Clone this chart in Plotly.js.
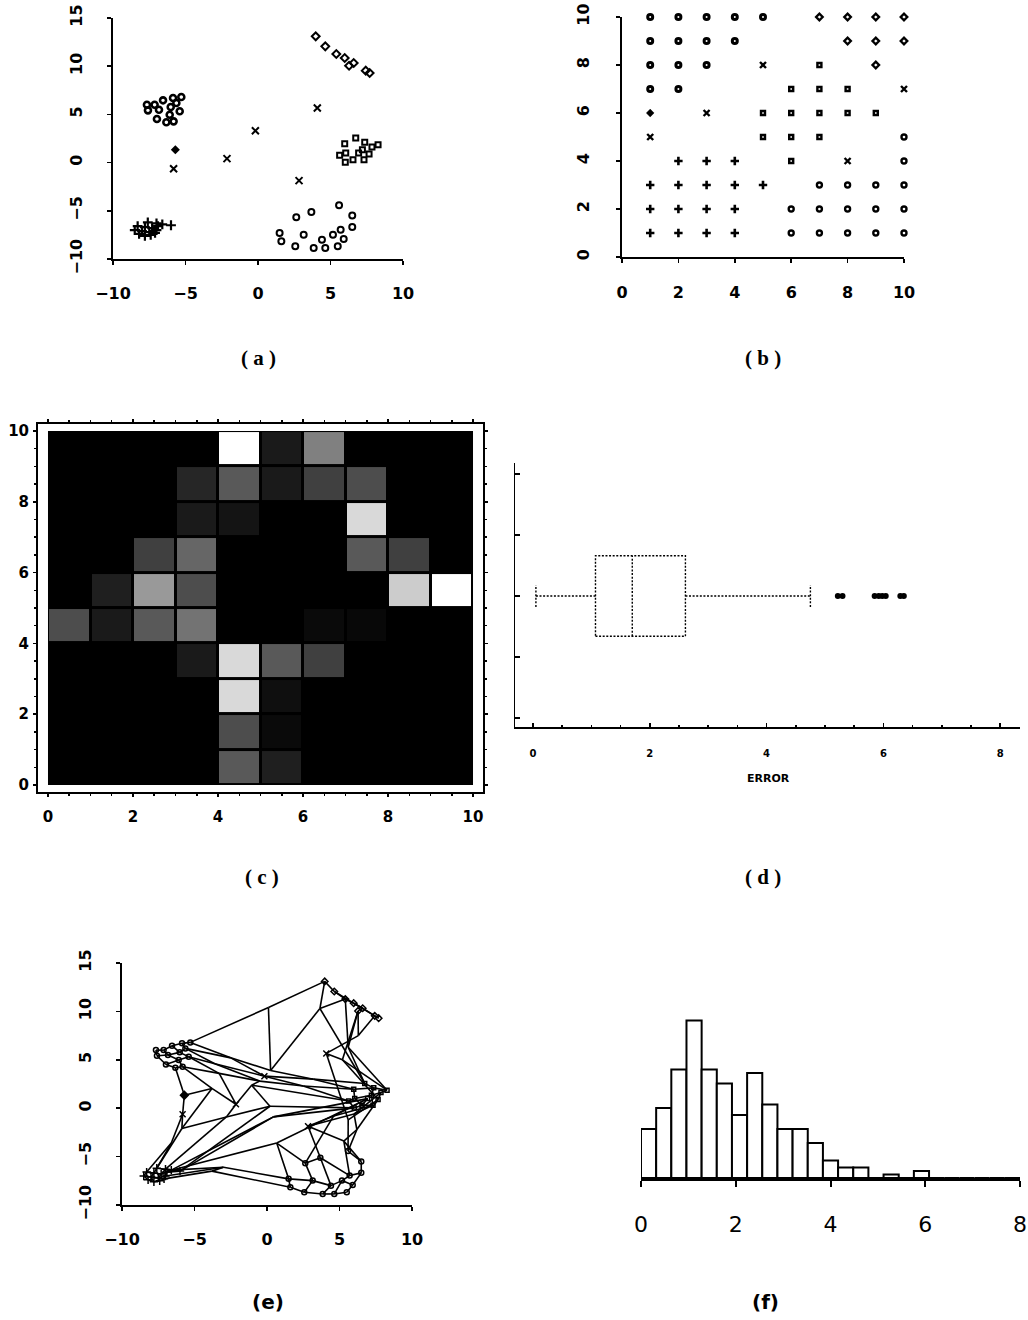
<!DOCTYPE html>
<html>
<head>
<meta charset="utf-8">
<script src="https://cdn.plot.ly/plotly-3.0.1.min.js"></script>
<style>
  html, body { margin: 0; padding: 0; background: #fff; }
  #chart { width: 1028px; height: 1320px; }
</style>
</head>
<body>
<div id="chart"></div>
<script>
// ---- Self-organising map, 10 x 10 units (first row = grid row 10, last row = grid row 1) ----
// Class of each unit: C/O circles, D diamonds, S squares, P plus, X crosses, F filled diamond, '.' no class
const unitLabels = [
  "CCCCC.DDDD",
  "CCCC...DDD",
  "CCC.X.S.D.",
  "CC...SSS.X",
  "F.X.SSSSS.",
  "X...SSS..O",
  ".PPP.S.X.O",
  "PPPPP.OOOO",
  "PPPP.OOOOO",
  "PPPP.OOOOO"
];

// Unit weight vectors in the input plane (x component)
const unitX = [
  [-7.66, -7.13, -6.55, -5.86, -5.29,  0.10,  3.98,  4.64,  5.98,  7.70],
  [-7.59, -6.83, -6.02, -5.63, -2.50,  0.25,  3.65,  5.40,  6.60,  7.43],
  [-6.97, -6.09, -5.40, -3.60, -0.18,  3.20,  6.74,  5.60,  6.28,  6.30],
  [-6.32, -5.82, -3.30, -0.50,  2.50,  5.98,  7.36,  8.28,  5.20,  4.09],
  [-5.70, -3.80, -2.14, -1.06,  5.63,  6.05,  7.20,  7.86,  7.66,  5.60],
  [-5.82, -5.87, -2.80,  0.20,  6.02,  6.55,  7.31,  6.00,  6.20,  5.59],
  [-6.60, -7.60, -7.00, -6.00,  0.44,  6.94,  4.60,  2.83,  5.30,  6.50],
  [-8.30, -7.80, -7.30, -6.90, -6.60,  0.67,  2.64,  3.68,  5.70,  6.50],
  [-8.50, -8.00, -7.50, -7.00, -3.00,  1.49,  3.15,  4.41,  5.17,  5.91],
  [-8.20, -7.80, -7.40, -7.10, -3.80,  1.61,  2.57,  3.84,  4.64,  5.50]
];

// Unit weight vectors in the input plane (y component)
const unitY = [
  [ 6.00,  6.00,  6.46,  6.70,  6.80, 10.40, 13.10, 12.06, 10.85,  9.30],
  [ 5.42,  5.49,  5.77,  6.18,  5.20,  3.90, 10.30, 11.27, 10.33,  9.54],
  [ 4.52,  4.97,  5.32,  4.60,  3.31,  3.00,  2.55,  6.30, 10.05,  7.50],
  [ 4.18,  4.28,  3.60,  2.80,  2.30,  1.96,  2.10,  1.86,  5.00,  5.66],
  [ 1.34,  2.04,  0.41,  2.38,  0.75,  1.00,  1.34,  1.62,  0.89, -1.20],
  [-0.63, -2.10, -0.90,  0.20,  0.03,  0.30,  0.30, -0.60, -2.20, -4.43],
  [-3.60, -6.20, -6.30, -6.50, -0.90,  0.99, -0.80, -1.87, -3.40, -5.50],
  [-6.60, -6.70, -6.80, -6.60, -6.40, -3.60, -5.68, -5.12, -6.96, -6.68],
  [-7.00, -7.10, -7.20, -7.00, -6.10, -7.30, -7.48, -8.00, -7.48, -7.93],
  [-7.40, -7.60, -7.50, -7.30, -6.50, -8.17, -8.69, -8.86, -8.86, -8.69]
];

// Unit distance map, rows from grid row 0 (bottom) to row 9 (top), 0 = black, 1 = white
const distanceMap = [
  [0, 0, 0, 0, 0.35, 0.12, 0, 0, 0, 0],
  [0, 0, 0, 0, 0.30, 0.04, 0, 0, 0, 0],
  [0, 0, 0, 0, 0.85, 0.06, 0, 0, 0, 0],
  [0, 0, 0, 0.10, 0.85, 0.35, 0.25, 0, 0, 0],
  [0.30, 0.10, 0.35, 0.45, 0, 0, 0.04, 0.03, 0, 0],
  [0, 0.12, 0.60, 0.30, 0, 0, 0, 0, 0.80, 1.00],
  [0, 0, 0.25, 0.40, 0, 0, 0, 0.35, 0.25, 0],
  [0, 0, 0, 0.10, 0.08, 0, 0, 0.85, 0, 0],
  [0, 0, 0, 0.15, 0.35, 0.10, 0.25, 0.30, 0, 0],
  [0, 0, 0, 0, 1.00, 0.10, 0.50, 0, 0, 0]
];

// Quantisation error summary
const errorLowWhisker = 0.05;
const errorQ1 = 1.07;
const errorMedian = 1.70;
const errorQ3 = 2.61;
const errorHighWhisker = 4.75;
const errorOutliers = [5.22, 5.30, 5.85, 5.92, 5.98, 6.04, 6.29, 6.35];

// Quantisation error histogram
const histBinStart = 0;
const histBinWidth = 0.32;
const histCounts = [14, 20, 31, 45, 31, 27, 18, 30, 21, 14, 14, 10, 5, 3, 3, 0, 1, 0, 2, 0, 0, 0, 0, 0, 0];

// Tick labels
const scatterTicks = [-10, -5, 0, 5, 10];
const scatterYTicks = [-10, -5, 0, 5, 10, 15];
const gridTicks = [0, 2, 4, 6, 8, 10];
const errorTicks = [0, 2, 4, 6, 8];
const panelNames = ["a", "b", "c", "d", "e", "f"];

// ---- layout helpers (pixel positions on the 1028 x 1320 page) ----
const W = 1028, H = 1320;
const xd = (l, r) => [l / W, r / W];
const yd = (t, b) => [1 - b / H, 1 - t / H];

const markerStyle = {
  C: { symbol: 'circle-open', size: 6, line: { width: 2.6, color: '#000' } },
  O: { symbol: 'circle-open', size: 6, line: { width: 2, color: '#000' } },
  D: { symbol: 'diamond-open', size: 6, line: { width: 2, color: '#000' } },
  S: { symbol: 'square-open', size: 5, line: { width: 2, color: '#000' } },
  P: { symbol: 'cross-thin', size: 7, line: { width: 2.2, color: '#000' } },
  X: { symbol: 'x-thin', size: 7, line: { width: 2, color: '#000' } },
  F: { symbol: 'diamond', size: 7, line: { width: 0, color: '#000' } }
};
const classOrder = ['C', 'D', 'S', 'O', 'P', 'X', 'F'];

function unitsOf(cls) {
  const pts = [];
  unitLabels.forEach((row, i) => {
    for (let c = 0; c < row.length; c++) {
      if (row[c] === cls) pts.push({ i, c });
    }
  });
  return pts;
}

const traces = [];

// (a) labelled units in the input plane
classOrder.forEach(cls => {
  const pts = unitsOf(cls);
  traces.push({
    type: 'scatter', mode: 'markers', xaxis: 'x', yaxis: 'y', hoverinfo: 'skip', cliponaxis: false,
    x: pts.map(p => unitX[p.i][p.c]), y: pts.map(p => unitY[p.i][p.c]),
    marker: Object.assign({ color: '#000' }, markerStyle[cls])
  });
});

// (b) labelled units on the map grid
classOrder.forEach(cls => {
  const pts = unitsOf(cls);
  const st = markerStyle[cls];
  traces.push({
    type: 'scatter', mode: 'markers', xaxis: 'x2', yaxis: 'y2', hoverinfo: 'skip', cliponaxis: false,
    x: pts.map(p => p.c + 1), y: pts.map(p => unitLabels.length - p.i),
    marker: { color: '#000', symbol: st.symbol, size: Math.max(st.size - 1, 4),
              line: { width: st.line.width + 0.4, color: '#000' } }
  });
});

// (c) distance map
traces.push({
  type: 'heatmap', xaxis: 'x3', yaxis: 'y3', hoverinfo: 'skip',
  z: distanceMap, x0: 0.5, dx: 1, y0: 0.5, dy: 1,
  zmin: 0, zmax: 1, xgap: 3, ygap: 3, showscale: false,
  colorscale: [[0, '#000000'], [1, '#ffffff']]
});

// (d) box plot of the error, drawn with dotted strokes
const boxPos = 2, boxHalf = 0.66, capHalf = 0.18;
const dotted = { color: '#000', width: 1.4, dash: '2px,1.6px' };
traces.push({
  type: 'scatter', mode: 'lines', xaxis: 'x4', yaxis: 'y4', hoverinfo: 'skip', line: dotted,
  x: [errorQ1, errorQ3, errorQ3, errorQ1, errorQ1, null, errorMedian, errorMedian],
  y: [boxPos - boxHalf, boxPos - boxHalf, boxPos + boxHalf, boxPos + boxHalf, boxPos - boxHalf, null,
      boxPos - boxHalf, boxPos + boxHalf]
});
traces.push({
  type: 'scatter', mode: 'lines', xaxis: 'x4', yaxis: 'y4', hoverinfo: 'skip', line: dotted,
  x: [errorLowWhisker, errorQ1, null, errorQ3, errorHighWhisker, null,
      errorLowWhisker, errorLowWhisker, null, errorHighWhisker, errorHighWhisker],
  y: [boxPos, boxPos, null, boxPos, boxPos, null,
      boxPos - capHalf, boxPos + capHalf, null, boxPos - capHalf, boxPos + capHalf]
});
traces.push({
  type: 'scatter', mode: 'markers', xaxis: 'x4', yaxis: 'y4', hoverinfo: 'skip',
  x: errorOutliers, y: errorOutliers.map(() => boxPos),
  marker: { color: '#000', size: 6, symbol: 'circle' }
});

// (e) map grid stretched over the input plane: neighbouring units joined
const ex = [], ey = [];
for (let i = 0; i < unitLabels.length; i++) {
  for (let c = 0; c < unitLabels[i].length; c++) {
    if (c + 1 < unitLabels[i].length) {
      ex.push(unitX[i][c], unitX[i][c + 1], null);
      ey.push(unitY[i][c], unitY[i][c + 1], null);
    }
    if (i + 1 < unitLabels.length) {
      ex.push(unitX[i][c], unitX[i + 1][c], null);
      ey.push(unitY[i][c], unitY[i + 1][c], null);
    }
  }
}
traces.push({
  type: 'scatter', mode: 'lines', xaxis: 'x5', yaxis: 'y5', hoverinfo: 'skip', cliponaxis: false,
  x: ex, y: ey, line: { color: '#000', width: 1.6 }
});
classOrder.forEach(cls => {
  const pts = unitsOf(cls);
  const st = markerStyle[cls];
  traces.push({
    type: 'scatter', mode: 'markers', xaxis: 'x5', yaxis: 'y5', hoverinfo: 'skip', cliponaxis: false,
    x: pts.map(p => unitX[p.i][p.c]), y: pts.map(p => unitY[p.i][p.c]),
    marker: { color: '#000', symbol: st.symbol, size: Math.max(st.size - 1, 4),
              line: { width: 1.5, color: '#000' } }
  });
});

// (f) histogram of the error
traces.push({
  type: 'bar', xaxis: 'x6', yaxis: 'y6', hoverinfo: 'skip',
  x: histCounts.map((_, k) => histBinStart + histBinWidth * (k + 0.5)),
  y: histCounts, width: histBinWidth,
  marker: { color: '#fff', line: { color: '#000', width: 2 } }
});

// ---- axes ----
const base = {
  showgrid: false, zeroline: false, showline: true, linecolor: '#000', linewidth: 2,
  ticks: 'outside', ticklen: 4, tickwidth: 1.5, tickcolor: '#000', fixedrange: true
};
const boldFont = size => ({ family: 'DejaVu Sans', size: size, color: '#000', weight: 'bold' });

const layout = {
  width: W, height: H, margin: { l: 0, r: 0, t: 0, b: 0 },
  paper_bgcolor: '#fff', plot_bgcolor: 'rgba(0,0,0,0)', showlegend: false,

  xaxis: Object.assign({}, base, { domain: xd(113, 403), range: [-10, 10], anchor: 'y',
    tickvals: scatterTicks, tickfont: boldFont(16), ticklabelstandoff: 15 }),
  yaxis: Object.assign({}, base, { domain: yd(18, 259), range: [-10, 15], anchor: 'x',
    tickvals: scatterYTicks, tickfont: boldFont(16), tickangle: -90, ticklabelstandoff: 19 }),

  xaxis2: Object.assign({}, base, { domain: xd(622, 904), range: [0, 10], anchor: 'y2',
    tickvals: gridTicks, tickfont: boldFont(16), ticklabelstandoff: 16 }),
  yaxis2: Object.assign({}, base, { domain: yd(17, 257), range: [0, 10], anchor: 'x2',
    tickvals: gridTicks, tickfont: boldFont(16), tickangle: -90, ticklabelstandoff: 21 }),

  xaxis3: Object.assign({}, base, { domain: xd(38, 483), range: [-0.235, 10.235], anchor: 'y3',
    tickvals: gridTicks, tickfont: boldFont(15), ticklen: 3, mirror: 'ticks', ticklabelstandoff: 7,
    minor: { dtick: 0.5, tick0: 0, ticks: 'outside', ticklen: 2, tickcolor: '#000' } }),
  yaxis3: Object.assign({}, base, { domain: yd(424, 792), range: [-0.198, 10.198], anchor: 'x3',
    tickvals: gridTicks, tickfont: boldFont(15), ticklen: 3, mirror: 'ticks', ticklabelstandoff: 1,
    minor: { dtick: 0.5, tick0: 0, ticks: 'outside', ticklen: 2, tickcolor: '#000' } }),

  xaxis4: Object.assign({}, base, { domain: xd(515, 1020), range: [-0.308, 8.339], anchor: 'y4',
    tickvals: errorTicks, tickfont: boldFont(10), ticks: 'inside', ticklen: 4, linewidth: 1.5,
    ticklabelstandoff: 16,
    minor: { dtick: 0.5, tick0: 0, ticks: 'inside', ticklen: 2, tickcolor: '#000' } }),
  yaxis4: Object.assign({}, base, { domain: yd(463, 727), range: [-0.148, 4.18], anchor: 'x4',
    tickvals: [0, 1, 2, 3, 4], showticklabels: false, ticks: 'inside', ticklen: 5, linewidth: 1.5 }),

  xaxis5: Object.assign({}, base, { domain: xd(122, 412), range: [-10, 10], anchor: 'y5',
    tickvals: scatterTicks, tickfont: boldFont(16), ticklabelstandoff: 15 }),
  yaxis5: Object.assign({}, base, { domain: yd(963, 1205), range: [-10, 15], anchor: 'x5',
    tickvals: scatterYTicks, tickfont: boldFont(16), tickangle: -90, ticklabelstandoff: 19 }),

  xaxis6: Object.assign({}, base, { domain: xd(641, 1020), range: [0, 8], anchor: 'y6',
    tickvals: errorTicks, tickfont: { family: 'DejaVu Sans', size: 22, color: '#000' },
    linewidth: 3, ticklen: 6, tickwidth: 2, ticklabelstandoff: 19 }),
  yaxis6: { domain: yd(1010, 1178), range: [0, 48], anchor: 'x6', visible: false, fixedrange: true },

  bargap: 0,
  shapes: [
    // black field under the distance map
    { type: 'rect', xref: 'x3', yref: 'y3', x0: 0, x1: 10, y0: 0, y1: 10,
      fillcolor: '#000', line: { width: 0 }, layer: 'below' }
  ],
  annotations: []
};

// axis title of the box plot
layout.annotations.push({
  xref: 'paper', yref: 'paper', x: 768 / W, y: 1 - 778 / H, showarrow: false,
  text: 'ERROR', font: boldFont(11), xanchor: 'center', yanchor: 'middle'
});

// panel captions
const captionPos = [[258, 358], [763, 358], [262, 877], [763, 877], [268, 1302], [765, 1302]];
panelNames.forEach((name, k) => {
  const serif = k < 4;
  layout.annotations.push({
    xref: 'paper', yref: 'paper', x: captionPos[k][0] / W, y: 1 - captionPos[k][1] / H,
    showarrow: false, xanchor: 'center', yanchor: 'middle',
    text: serif ? '( ' + name + ' )' : '(' + name + ')',
    font: serif ? { family: 'Liberation Serif', size: 21, color: '#000', weight: 'bold' }
                : { family: 'DejaVu Sans', size: 20, color: '#000', weight: 'bold' }
  });
});

Plotly.newPlot('chart', traces, layout, { staticPlot: true, displayModeBar: false });
</script>
</body>
</html>
